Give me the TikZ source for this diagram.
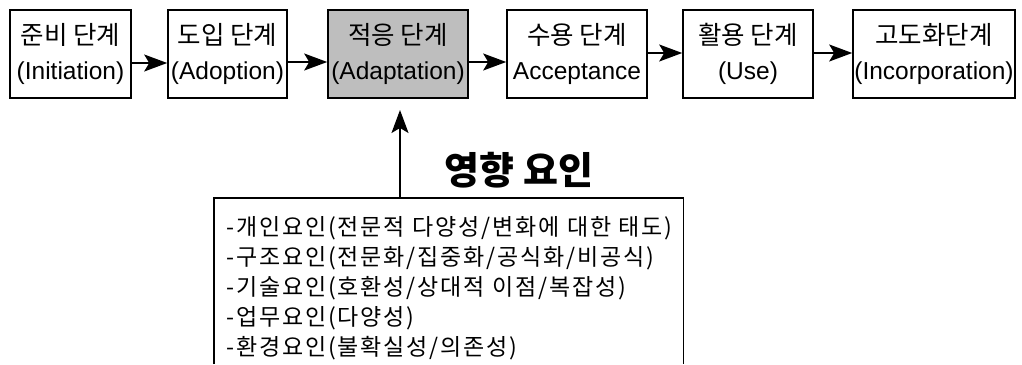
\documentclass[tikz,border=0pt]{standalone}
\usepackage{fontspec}
\setmainfont{Liberation Sans}
\newfontfamily\kr{Noto Sans CJK KR}
\newfontfamily\krs[LetterSpace=8]{Noto Sans CJK KR}
\usetikzlibrary{arrows.meta}
\definecolor{halftone}{RGB}{190,190,190}
\newcommand{\K}[1]{{\kr\fontsize{25.5}{35}\selectfont #1}}
\begin{document}
\begin{tikzpicture}[x=1pt,y=-1pt,
  stage/.style={draw, line width=1.6pt, inner sep=0pt, minimum height=88pt,
    align=center, font=\fontsize{24.5}{35}\selectfont},
  arr/.style={line width=1.4pt, -{Stealth[length=23pt,width=17pt,inset=5pt]}},
  boxline/.style={line width=1.6pt}]
\useasboundingbox (0,0) rectangle (1022,364);
\node[stage, minimum width=121pt] (s1) at (70.5,54) {\K{준비 단계}\\(Initiation)};
\node[stage, minimum width=119pt] (s2) at (227.5,54) {\K{도입 단계}\\(Adoption)};
\node[stage, minimum width=140pt, fill=halftone] (s3) at (398,54) {\K{적응 단계}\\(Adaptation)};
\node[stage, minimum width=140pt] (s4) at (577,54) {\K{수용 단계}\\Acceptance};
\node[stage, minimum width=130pt] (s5) at (748,54) {\K{활용 단계}\\(Use)};
\node[stage, minimum width=162pt] (s6) at (934,54) {\K{고도화단계}\\(Incorporation)};
\draw[arr] ([yshift=-9pt]s1.east) -- ([yshift=-9pt]s2.west);
\draw[arr] ([yshift=-8pt]s2.east) -- ([yshift=-8pt]s3.west);
\draw[arr] ([yshift=-8pt]s3.east) -- ([yshift=-8pt]s4.west);
\draw[arr] ([yshift=1pt]s4.east) -- ([yshift=1pt]s5.west);
\draw[arr] ([yshift=1pt]s5.east) -- ([yshift=1pt]s6.west);
\node[font=\kr\bfseries\fontsize{38}{42}\selectfont] (title) at (519,170) {영향 요인};
\node[anchor=north west, minimum width=469pt, minimum height=180pt, text width=445pt,
  inner xsep=12pt, inner ysep=0pt, align=left, font=\krs\fontsize{23}{30}\selectfont] (f) at (214,198)
  {-개인요인(전문적 다양성/변화에 대한 태도)\\
   -구조요인(전문화/집중화/공식화/비공식)\\
   -기술요인(호환성/상대적 이점/복잡성)\\
   -업무요인(다양성)\\
   -환경요인(불확실성/의존성)};
\draw[boxline] (f.north west |- 0,364) -- (f.north west) -- (f.north east) -- (f.north east |- 0,364);
\coordinate (tip) at (400,110);
\draw[arr] (f.north west -| tip) -- (tip);
\end{tikzpicture}
\end{document}
